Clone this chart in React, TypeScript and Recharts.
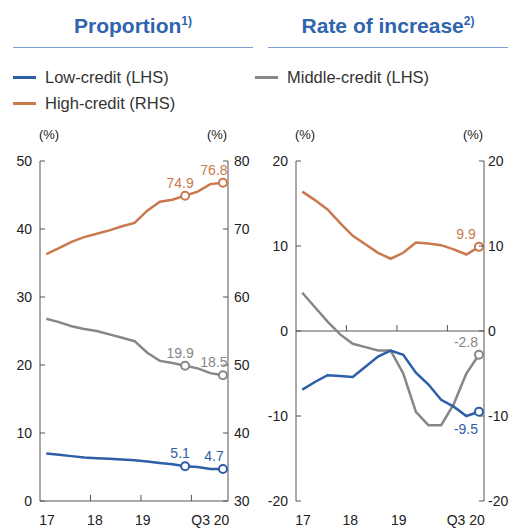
import { LineChart, Line, XAxis, YAxis, ReferenceLine } from 'recharts';

const BLUE = '#2d5ea8';
const GREY = '#878787';
const ORANGE = '#c9794d';
const AXIS = '#555555';
const TITLE = '#3064ae';
const FONT = '"Liberation Sans", Arial, sans-serif';

// quarterly, 2017 Q1 .. 2020 Q3
const QUARTERS = [
  '17Q1', '17Q2', '17Q3', '17Q4',
  '18Q1', '18Q2', '18Q3', '18Q4',
  '19Q1', '19Q2', '19Q3', '19Q4',
  '20Q1', '20Q2', '20Q3',
];

// proportion (%)
const SHARE_LOW = [7.0, 6.8, 6.6, 6.4, 6.3, 6.2, 6.1, 6.0, 5.8, 5.6, 5.4, 5.1, 5.0, 4.7, 4.7];
const SHARE_MID = [26.8, 26.3, 25.7, 25.3, 25.0, 24.5, 24.0, 23.5, 21.8, 20.6, 20.3, 19.9, 19.5, 18.8, 18.5];
const SHARE_HIGH = [66.3, 67.2, 68.1, 68.8, 69.3, 69.8, 70.4, 70.9, 72.7, 74.0, 74.3, 74.9, 75.5, 76.6, 76.8];

// rate of increase (%)
const RATE_LOW = [-6.9, -6.0, -5.2, -5.3, -5.4, -4.2, -3.0, -2.3, -2.8, -4.9, -6.3, -8.1, -8.9, -10.0, -9.5];
const RATE_MID = [4.5, 2.8, 1.1, -0.4, -1.5, -1.9, -2.3, -2.3, -5.0, -9.5, -11.1, -11.1, -8.6, -5.0, -2.8];
const RATE_HIGH = [16.4, 15.4, 14.3, 12.7, 11.2, 10.2, 9.2, 8.5, 9.2, 10.4, 10.3, 10.1, 9.6, 9.0, 9.9];

const X_LABELS = ['17', '18', '19', 'Q3 20'];
const LEFT_TICKS = [0, 10, 20, 30, 40, 50];
const RIGHT_TICKS = [30, 40, 50, 60, 70, 80];
const RATE_TICKS = [-20, -10, 0, 10, 20];

// year boundaries and where the year labels sit, in quarter index units
const YEAR_BOUNDS = [3.5, 7.5, 11.5];
const LABEL_POS_A = [0.05, 3.85, 7.65, 13.0];
const LABEL_POS_B = [0.05, 3.8, 7.65, 12.95];

const shareData = QUARTERS.map((q, i) => ({ i, q, low: SHARE_LOW[i], mid: SHARE_MID[i], high: SHARE_HIGH[i] }));
const rateData = QUARTERS.map((q, i) => ({ i, q, low: RATE_LOW[i], mid: RATE_MID[i], high: RATE_HIGH[i] }));

const LAST = QUARTERS.length - 1;

function YTick({ x, y, payload, side, gap }: any) {
  const ax = side === 'left' ? x + gap : x - gap;
  const inner = side === 'left' ? ax + 5 : ax - 5;
  return (
    <g>
      <line x1={ax} x2={inner} y1={y} y2={y} stroke={AXIS} strokeWidth={1} />
      <text
        x={x}
        y={y}
        dy="0.355em"
        textAnchor={side === 'left' ? 'end' : 'start'}
        fontSize={14}
        fontFamily={FONT}
        fill="#222"
      >
        {payload.value}
      </text>
    </g>
  );
}

function XTick({ x, y, payload, positions }: any) {
  const k = positions.indexOf(payload.value);
  return (
    <text x={x} y={y} dy="0.71em" textAnchor="middle" fontSize={14} fontFamily={FONT} fill="#222">
      {X_LABELS[k]}
    </text>
  );
}

// hollow markers on selected points
function markers(color: string, idx: number[]) {
  return (p: any) => {
    if (!idx.includes(p.index)) return <g key={`m${p.index}`} />;
    return <circle key={`m${p.index}`} cx={p.cx} cy={p.cy} r={4} fill="#fff" stroke={color} strokeWidth={2} />;
  };
}

function valueLabels(color: string, idx: number[], below = false, shiftLast = -9) {
  return (p: any) => {
    if (!idx.includes(p.index)) return <g key={`l${p.index}`} />;
    const dx = p.index === LAST ? shiftLast : -5;
    return (
      <text
        key={`l${p.index}`}
        x={p.x + dx}
        y={p.y + (below ? 17 : -13)}
        dy="0.355em"
        textAnchor="middle"
        fontSize={14}
        fontFamily={FONT}
        fill={color}
      >
        {Number(p.value).toFixed(1)}
      </text>
    );
  };
}

function Legend() {
  const item = (color: string, text: string, left: number, top: number) => (
    <div style={{ position: 'absolute', left, top, height: 17, display: 'flex', alignItems: 'center' }}>
      <div style={{ width: 23, height: 3, background: color, marginRight: 9 }} />
      <span style={{ fontSize: 16.5, lineHeight: '17px', color: '#333', whiteSpace: 'nowrap' }}>{text}</span>
    </div>
  );
  return (
    <>
      {item(BLUE, 'Low-credit (LHS)', 13, 69)}
      {item(GREY, 'Middle-credit (LHS)', 255, 69)}
      {item(ORANGE, 'High-credit (RHS)', 13, 95)}
    </>
  );
}

function Title({ text, sup, left }: { text: string; sup: string; left: number }) {
  return (
    <div style={{ position: 'absolute', left, top: 0, width: 240 }}>
      <div
        style={{
          marginTop: 11,
          textAlign: 'center',
          fontSize: 21,
          lineHeight: '21px',
          fontWeight: 'bold',
          color: TITLE,
        }}
      >
        {text}
        <span style={{ fontSize: 12, verticalAlign: 8 }}>{sup}</span>
      </div>
      <div style={{ position: 'absolute', left: 0, top: 47, width: 240, height: 1, background: '#7a9fd2' }} />
    </div>
  );
}

function Unit({ cx }: { cx: number }) {
  return (
    <div style={{ position: 'absolute', left: cx - 15, top: 127, width: 30, textAlign: 'center', fontSize: 13, color: '#222' }}>
      (%)
    </div>
  );
}

export default function App() {
  return (
    <div style={{ position: 'absolute', left: 0, top: 0, width: 521, height: 530, background: '#fff', fontFamily: FONT }}>
      <Title text="Proportion" sup="1)" left={13} />
      <Title text="Rate of increase" sup="2)" left={268} />
      <Legend />
      <Unit cx={49} />
      <Unit cx={217} />
      <Unit cx={305} />
      <Unit cx={473} />

      {/* Proportion */}
      <div style={{ position: 'absolute', left: 0, top: 140 }}>
        <LineChart width={260} height={390} data={shareData} margin={{ top: 21, right: 0, bottom: 0, left: 0 }}>
          <XAxis
            dataKey="i"
            type="number"
            domain={[-0.5, 14.4]}
            ticks={LABEL_POS_A}
            interval={0}
            axisLine={{ stroke: AXIS }}
            tickLine={false}
            tickSize={6}
            tickMargin={8}
            height={29}
            tick={(p: any) => <XTick {...p} positions={LABEL_POS_A} />}
          />
          <YAxis
            yAxisId="l"
            domain={[0, 50]}
            ticks={LEFT_TICKS}
            width={40}
            axisLine={{ stroke: AXIS }}
            tickLine={false}
            tickSize={6}
            tickMargin={2}
            tick={(p: any) => <YTick {...p} side="left" gap={8} />}
          />
          <YAxis
            yAxisId="r"
            orientation="right"
            domain={[30, 80]}
            ticks={RIGHT_TICKS}
            width={32}
            axisLine={{ stroke: AXIS }}
            tickLine={false}
            tickSize={6}
            tickMargin={0}
            tick={(p: any) => <YTick {...p} side="right" gap={6} />}
          />
          {YEAR_BOUNDS.map((b) => (
            <ReferenceLine
              key={b}
              yAxisId="l"
              segment={[{ x: b, y: 0 }, { x: b, y: 0.9 }]}
              stroke={AXIS}
              strokeWidth={1}
            />
          ))}
          <Line yAxisId="r" dataKey="high" stroke={ORANGE} strokeWidth={2.5} isAnimationActive={false}
            dot={markers(ORANGE, [11, LAST])} label={valueLabels(ORANGE, [11, LAST])} />
          <Line yAxisId="l" dataKey="mid" stroke={GREY} strokeWidth={2.5} isAnimationActive={false}
            dot={markers(GREY, [11, LAST])} label={valueLabels(GREY, [11, LAST])} />
          <Line yAxisId="l" dataKey="low" stroke={BLUE} strokeWidth={2.5} isAnimationActive={false}
            dot={markers(BLUE, [11, LAST])} label={valueLabels(BLUE, [11, LAST])} />
        </LineChart>
      </div>

      {/* Rate of increase */}
      <div style={{ position: 'absolute', left: 260, top: 140 }}>
        <LineChart width={261} height={390} data={rateData} margin={{ top: 21, right: 0, bottom: 0, left: 0 }}>
          <XAxis
            dataKey="i"
            type="number"
            domain={[-0.5, 14.4]}
            ticks={LABEL_POS_B}
            interval={0}
            axisLine={false}
            tickLine={false}
            tickSize={6}
            tickMargin={8}
            height={29}
            tick={(p: any) => <XTick {...p} positions={LABEL_POS_B} />}
          />
          <YAxis
            yAxisId="l"
            domain={[-20, 20]}
            ticks={RATE_TICKS}
            width={36}
            axisLine={{ stroke: AXIS }}
            tickLine={false}
            tickSize={6}
            tickMargin={2}
            tick={(p: any) => <YTick {...p} side="left" gap={8} />}
          />
          <YAxis
            yAxisId="r"
            orientation="right"
            domain={[-20, 20]}
            ticks={RATE_TICKS}
            width={37}
            axisLine={{ stroke: AXIS }}
            tickLine={false}
            tickSize={4}
            tickMargin={0}
            tick={(p: any) => <YTick {...p} side="right" gap={4} />}
          />
          <ReferenceLine yAxisId="l" y={0} stroke={AXIS} strokeWidth={1} />
          {YEAR_BOUNDS.map((b) => (
            <ReferenceLine
              key={b}
              yAxisId="l"
              segment={[{ x: b, y: 0 }, { x: b, y: 0.7 }]}
              stroke={AXIS}
              strokeWidth={1}
            />
          ))}
          <Line yAxisId="r" dataKey="high" stroke={ORANGE} strokeWidth={2.5} isAnimationActive={false}
            dot={markers(ORANGE, [LAST])} label={valueLabels(ORANGE, [LAST], false, -13)} />
          <Line yAxisId="l" dataKey="mid" stroke={GREY} strokeWidth={2.5} isAnimationActive={false}
            dot={markers(GREY, [LAST])} label={valueLabels(GREY, [LAST], false, -13)} />
          <Line yAxisId="l" dataKey="low" stroke={BLUE} strokeWidth={2.5} isAnimationActive={false}
            dot={markers(BLUE, [LAST])} label={valueLabels(BLUE, [LAST], true, -13)} />
        </LineChart>
      </div>
    </div>
  );
}
